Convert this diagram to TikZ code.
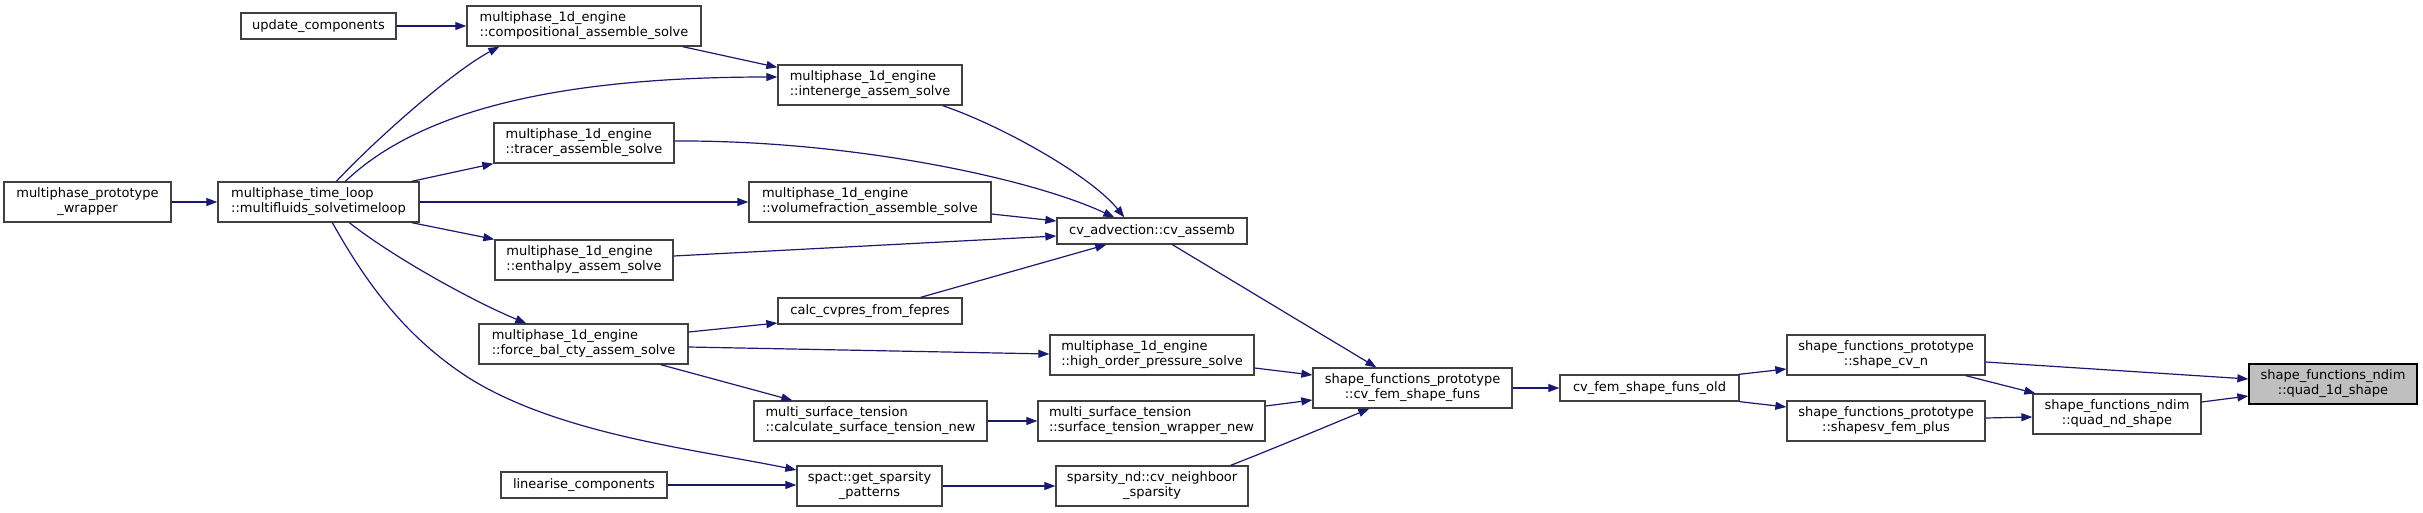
\documentclass[tikz,border=0pt]{standalone}
\usepackage{fontspec}
\setmainfont{DejaVu Sans}
\usetikzlibrary{arrows.meta,calc}
\definecolor{edgec}{HTML}{191970}
\definecolor{boxc}{HTML}{404040}
\definecolor{rootc}{HTML}{BFBFBF}
\tikzset{
  box/.style={draw=boxc, line width=1.3pt, fill=white, inner sep=0pt, font=\fontsize{13}{15}\selectfont, align=center},
  boxl/.style={box, align=left},
  edge/.style={draw=edgec, line width=1.2pt, -{Triangle[length=11pt,width=8pt]}},
}
\begin{document}
\begin{tikzpicture}[x=1pt,y=-1pt]
\useasboundingbox[fill=white] (0,0) rectangle (2423,512);
% nodes
\node[box, minimum width=155pt, minimum height=26pt] (upd) at (318.5,26) {update\_components};
\node[boxl, minimum width=234pt, minimum height=40pt] (comp) at (584,26) {multiphase\_1d\_engine\\::compositional\_assemble\_solve};
\node[boxl, minimum width=184pt, minimum height=40pt] (inten) at (870,85) {multiphase\_1d\_engine\\::intenerge\_assem\_solve};
\node[boxl, minimum width=180pt, minimum height=40pt] (tracer) at (584,143) {multiphase\_1d\_engine\\::tracer\_assemble\_solve};
\node[box, minimum width=167pt, minimum height=40pt] (wrap) at (87.5,202) {multiphase\_prototype\\\_wrapper};
\node[boxl, minimum width=201pt, minimum height=40pt] (loop) at (318.5,202) {multiphase\_time\_loop\\::multifluids\_solvetimeloop};
\node[boxl, minimum width=242pt, minimum height=40pt] (volf) at (870,202) {multiphase\_1d\_engine\\::volumefraction\_assemble\_solve};
\node[box, minimum width=190pt, minimum height=26pt] (cva) at (1152,231) {cv\_advection::cv\_assemb};
\node[boxl, minimum width=178pt, minimum height=40pt] (enth) at (584,260) {multiphase\_1d\_engine\\::enthalpy\_assem\_solve};
\node[boxl, minimum width=209pt, minimum height=40pt] (force) at (583.5,344) {multiphase\_1d\_engine\\::force\_bal\_cty\_assem\_solve};
\node[box, minimum width=184pt, minimum height=26pt] (calc) at (870,311) {calc\_cvpres\_from\_fepres};
\node[boxl, minimum width=204pt, minimum height=40pt] (high) at (1152,355) {multiphase\_1d\_engine\\::high\_order\_pressure\_solve};
\node[boxl, minimum width=233pt, minimum height=40pt] (csurf) at (870.5,421) {multi\_surface\_tension\\::calculate\_surface\_tension\_new};
\node[boxl, minimum width=227pt, minimum height=40pt] (wsurf) at (1151.5,421) {multi\_surface\_tension\\::surface\_tension\_wrapper\_new};
\node[box, minimum width=166pt, minimum height=26pt] (lin) at (584,485) {linearise\_components};
\node[box, minimum width=145pt, minimum height=40pt] (spact) at (869.5,486) {spact::get\_sparsity\\\_patterns};
\node[box, minimum width=192pt, minimum height=40pt] (neigh) at (1152,486) {sparsity\_nd::cv\_neighboor\\\_sparsity};
\node[box, minimum width=199pt, minimum height=40pt] (cvfem) at (1412.5,388) {shape\_functions\_prototype\\::cv\_fem\_shape\_funs};
\node[box, minimum width=179pt, minimum height=26pt] (old) at (1649.5,388) {cv\_fem\_shape\_funs\_old};
\node[box, minimum width=198pt, minimum height=40pt] (scvn) at (1886,355) {shape\_functions\_prototype\\::shape\_cv\_n};
\node[box, minimum width=198pt, minimum height=40pt] (ssv) at (1886,421) {shape\_functions\_prototype\\::shapesv\_fem\_plus};
\node[box, minimum width=168pt, minimum height=40pt] (qnd) at (2117,414) {shape\_functions\_ndim\\::quad\_nd\_shape};
\node[box, fill=rootc, draw=black, minimum width=168pt, minimum height=40pt] (q1d) at (2333,384) {shape\_functions\_ndim\\::quad\_1d\_shape};
% edges
\draw[edge] (wrap.east) -- (loop.west);
\draw[edge] (upd.east) -- (upd.east -| comp.west);
\draw[edge] ($(loop.north west)+(119,0)$) .. controls (380,135) and (455,70) .. ($(comp.south west)+(33,0)$);
\draw[edge] ($(loop.north west)+(128,0)$) .. controls (420,110) and (560,77) .. ($(inten.west)+(0,-8)$);
\draw[edge] ($(comp.south east)+(-19,0)$) -- ($(inten.north west)+(0,3)$);
\draw[edge] ($(inten.south east)+(-20,0)$) .. controls (1000,125) and (1090,175) .. ($(cva.north west)+(68,0)$);
\draw[edge] ($(tracer.east)+(0,-2)$) .. controls (850,140) and (1030,178) .. ($(cva.north west)+(58,0)$);
\draw[edge] ($(loop.north east)+(-8,0)$) -- (tracer.south west);
\draw[edge] (loop.east) -- (volf.west);
\draw[edge] ($(volf.east)+(0,12)$) -- ($(cva.west)+(0,-10)$);
\draw[edge] ($(enth.east)+(0,-4)$) -- ($(cva.west)+(0,5)$);
\draw[edge] ($(calc.north east)+(-42,0)$) -- ($(cva.south west)+(50,0)$);
\draw[edge] ($(loop.south east)+(-8,0)$) -- (enth.north west);
\draw[edge] ($(loop.south west)+(132,0)$) .. controls (390,255) and (470,300) .. ($(force.north west)+(48,0)$);
\draw[edge] ($(loop.south west)+(115,0)$) .. controls (370,290) and (410,340) .. (469,378) .. controls (560,435) and (700,450) .. ($(spact.west)+(0,-16)$);
\draw[edge] ($(force.east)+(0,-12)$) -- ($(calc.west)+(0,12)$);
\draw[edge] ($(force.east)+(0,3)$) -- ($(high.west)+(0,-1)$);
\draw[edge] ($(force.south east)+(-28,0)$) -- ($(csurf.north west)+(39,0)$);
\draw[edge] (lin.east) -- (lin.east -| spact.west);
\draw[edge] (csurf.east) -- (wsurf.west);
\draw[edge] (spact.east) -- (neigh.west);
\draw[edge] ($(high.east)+(0,13)$) -- ($(cvfem.west)+(0,-13)$);
\draw[edge] ($(wsurf.east)+(0,-15)$) -- ($(cvfem.west)+(0,12)$);
\draw[edge] ($(neigh.north east)+(-18,0)$) .. controls (1270,450) and (1330,425) .. ($(cvfem.south west)+(57,0)$);
\draw[edge] ($(cva.south west)+(116,0)$) -- ($(cvfem.north west)+(64,0)$);
\draw[edge] (cvfem.east) -- (old.west);
\draw[edge] ($(old.north east)+(-1,0)$) -- ($(scvn.west)+(0,14)$);
\draw[edge] (old.south east) -- ($(ssv.west)+(0,-14)$);
\draw[edge] ($(scvn.east)+(0,7)$) -- ($(q1d.west)+(0,-5)$);
\draw[edge] ($(scvn.south east)+(-20,0)$) -- ($(qnd.north west)+(3,0)$);
\draw[edge] ($(ssv.east)+(0,-3)$) -- ($(qnd.west)+(0,3)$);
\draw[edge] ($(qnd.east)+(0,-12)$) -- ($(q1d.west)+(0,12)$);
\end{tikzpicture}
\end{document}
